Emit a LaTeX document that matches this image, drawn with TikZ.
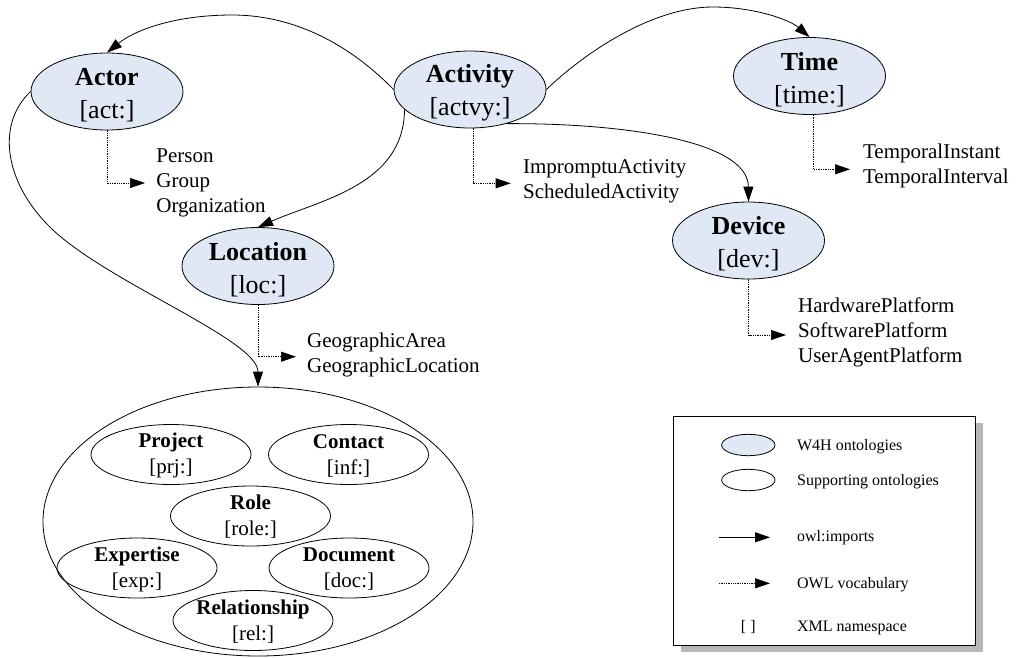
\documentclass[tikz,border=0pt]{standalone}
\usepackage{fontspec}
\setmainfont{Liberation Serif}
\usetikzlibrary{arrows.meta,shapes.geometric}
\definecolor{w4hfill}{RGB}{224,232,245}

\begin{document}
\begin{tikzpicture}[x=1pt,y=-1pt,
  line width=0.8pt,
  tip/.style={-{Triangle[length=15pt,width=10pt]}},
  imports/.style={tip},
  vocab/.style={tip, line width=0.7pt, dash pattern=on 1.3pt off 1pt},
  w4h/.style={ellipse, draw, fill=w4hfill, minimum width=152pt, minimum height=77pt, inner sep=0pt},
  w4htext/.style={align=center, inner sep=0pt, font=\fontsize{26}{33}\selectfont, yshift=-3.3pt},
  supp/.style={ellipse, draw, minimum width=160pt, minimum height=60pt, inner sep=0pt},
  supptext/.style={align=center, inner sep=0pt, font=\fontsize{21}{26}\selectfont, yshift=-1pt},
  terms/.style={align=left, anchor=north west, inner sep=0pt, font=\fontsize{21}{25}\selectfont},
  legtext/.style={anchor=base west, inner sep=0pt, font=\fontsize{16}{19}\selectfont},
]
\useasboundingbox (0,0) rectangle (1017,657);

% W4H ontologies
\node[w4h] (actor) at (107,91.5) {};
\node[w4htext] (actor-t) at (actor.center) {\textbf{Actor}\\{[act:]}};
\node[w4h] (activity) at (470,89.5) {};
\node[w4htext] (activity-t) at (activity.center) {\textbf{Activity}\\{[actvy:]}};
\node[w4h] (time) at (809.5,76) {};
\node[w4htext] (time-t) at (time.center) {\textbf{Time}\\{[time:]}};
\node[w4h] (device) at (748.5,240.5) {};
\node[w4htext] (device-t) at (device.center) {\textbf{Device}\\{[dev:]}};
\node[w4h] (location) at (258,266) {};
\node[w4htext] (location-t) at (location.center) {\textbf{Location}\\{[loc:]}};

% supporting ontologies
\node[ellipse, draw, minimum width=430pt, minimum height=269pt, inner sep=0pt] (supp) at (258,521.5) {};
\node[supp] (prj) at (171,454.5) {};
\node[supptext] (prj-t) at (prj.center) {\textbf{Project}\\{[prj:]}};
\node[supp] (inf) at (348.5,454.5) {};
\node[supptext] (inf-t) at (inf.center) {\textbf{Contact}\\{[inf:]}};
\node[supp] (role) at (250.5,516) {};
\node[supptext] (role-t) at (role.center) {\textbf{Role}\\{[role:]}};
\node[supp] (exp) at (137,568) {};
\node[supptext] (exp-t) at (exp.center) {\textbf{Expertise}\\{[exp:]}};
\node[supp] (doc) at (349,568) {};
\node[supptext] (doc-t) at (doc.center) {\textbf{Document}\\{[doc:]}};
\node[supp] (rel) at (253,620.5) {};
\node[supptext] (rel-t) at (rel.center) {\textbf{Relationship}\\{[rel:]}};

% vocabulary lists
\node[terms] (actor-terms) at (156,148.1) {Person\\Group\\Organization};
\node[terms] (activity-terms) at (522.7,159.2) {ImpromptuActivity\\ScheduledActivity};
\node[terms] (time-terms) at (862.7,144) {TemporalInstant\\TemporalInterval};
\node[terms] (device-terms) at (797.7,297.4) {HardwarePlatform\\SoftwarePlatform\\UserAgentPlatform};
\node[terms] (location-terms) at (306.7,333) {GeographicArea\\GeographicLocation};

\coordinate (actor-voc) at (145,183);
\coordinate (activity-voc) at (510.7,183.3);
\coordinate (time-voc) at (850,169.3);
\coordinate (device-voc) at (786,335);
\coordinate (location-voc) at (296,356.7);
\draw[vocab] (actor.south) |- (actor-voc);
\draw[vocab] ([xshift=3pt]activity.south) |- (activity-voc);
\draw[vocab] ([xshift=3.5pt]time.south) |- (time-voc);
\draw[vocab] (device.south) |- (device-voc);
\draw[vocab] (location.south) |- (location-voc);

% owl:imports
\draw[imports] (activity.west) .. controls (355,50) and (300,15) .. (232,15)
  .. controls (175,15) and (135,30) .. (actor.north);
\draw[imports] (activity.east) .. controls (581,56) and (650,7) .. (713,7)
  .. controls (755,7) and (790,20) .. (time.north);
\draw[imports] (activity.197) .. controls (404,185) and (320,200) .. (location.north);
\draw[imports] (activity.-43) .. controls (620,123) and (748,140) .. (device.north);
\draw[imports] (actor.west) .. controls (-5,125) and (5,185) .. (53,230)
  .. controls (111,284) and (258,340) .. (supp.north);

% legend
\node[fill=black!28, minimum width=302pt, minimum height=229pt, anchor=north west, inner sep=0pt] (legend-shadow) at (681,423) {};
\node[draw, fill=white, minimum width=302pt, minimum height=229pt, anchor=north west, inner sep=0pt] (legend) at (673,416) {};
\node[w4h, minimum width=53.4pt, minimum height=21.4pt] (leg-w4h) at (748.3,445) {};
\node[supp, minimum width=53.4pt, minimum height=21.4pt] (leg-supp) at (748.3,480) {};
\coordinate (leg-imp-a) at (719,537.3);
\coordinate (leg-imp-b) at (770,537.3);
\draw[imports] (leg-imp-a) -- (leg-imp-b);
\coordinate (leg-voc-a) at (719,583.3);
\coordinate (leg-voc-b) at (770,583.3);
\draw[vocab] (leg-voc-a) -- (leg-voc-b);
\node[legtext, anchor=base] (leg-ns) at (748.3,631.7) {[ ]};
\node[legtext] (leg-w4h-t) at (796.7,450) {W4H ontologies};
\node[legtext] (leg-supp-t) at (796.7,485) {Supporting ontologies};
\node[legtext] (leg-imp-t) at (796.7,541.7) {owl:imports};
\node[legtext] (leg-voc-t) at (796.7,588.3) {OWL vocabulary};
\node[legtext] (leg-ns-t) at (796.7,631.7) {XML namespace};
\end{tikzpicture}
\end{document}
